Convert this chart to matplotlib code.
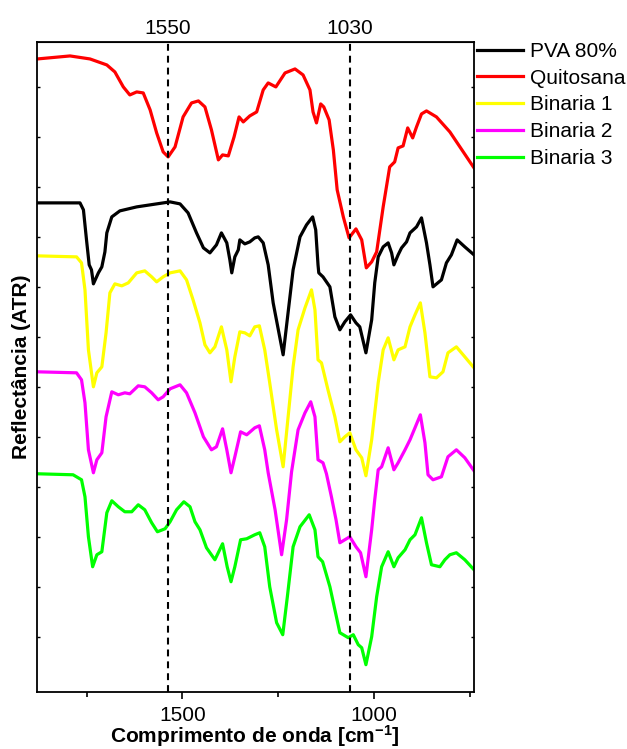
import numpy as np
import matplotlib
matplotlib.use("Agg")
import matplotlib.pyplot as plt

plt.rcParams['font.family'] = ['Liberation Sans', 'DejaVu Sans']
plt.rcParams['mathtext.fontset'] = 'custom'
plt.rcParams['mathtext.bf'] = 'Liberation Sans:bold'
plt.rcParams['mathtext.rm'] = 'Liberation Sans'

# wavenumber [cm-1] and reflectance (a.u., stacked)
quit_wn = [1878, 1793, 1741, 1697, 1676, 1654, 1637, 1619, 1602, 1584, 1567, 1550, 1537,
           1519, 1498, 1476, 1458, 1441, 1424, 1406, 1395, 1380, 1365, 1352, 1341, 1324,
           1306, 1289, 1276, 1256, 1232, 1206, 1185, 1167, 1159, 1150, 1139, 1131, 1117,
           1106, 1096, 1080, 1065, 1047, 1032, 1020, 1006, 993, 976, 959, 946, 937, 924,
           912, 899, 889, 876, 863, 837, 802, 767, 739]
quit_r = [633, 636, 633, 627, 620, 605, 597, 600, 599, 582, 559, 540, 535,
          545, 575, 589, 591, 585, 562, 532, 537, 536, 555, 575, 570, 576,
          580, 602, 609, 605, 619, 623, 617, 602, 580, 569, 588, 585, 572,
          542, 502, 475, 454, 463, 452, 424, 430, 440, 485, 525, 530, 544, 546,
          564, 554, 565, 578, 581, 575, 560, 540, 524]

pva_wn = [1878, 1767, 1758, 1750, 1743, 1737, 1732, 1719, 1710, 1702, 1697, 1684, 1663,
          1619, 1567, 1532, 1506, 1485, 1463, 1445, 1428, 1411, 1398, 1384, 1376, 1371,
          1363, 1354, 1350, 1337, 1324, 1311, 1302, 1289, 1276, 1263, 1237, 1211, 1193,
          1176, 1160, 1152, 1146, 1144, 1133, 1115, 1102, 1089, 1076, 1061, 1047, 1037,
          1021, 1006, 998, 989, 976, 963, 954, 948, 937, 928, 915, 906, 889, 876, 863,
          854, 846, 824, 811, 798, 783, 763, 739]
pva_r = [489, 489, 482, 452, 427, 422, 408, 419, 425, 440, 459, 475, 481,
         485, 488, 490, 488, 479, 459, 444, 439, 447, 459, 449, 432, 419,
         435, 442, 452, 448, 450, 454, 455, 449, 427, 389, 337, 422, 455,
         467, 475, 462, 427, 419, 415, 405, 375, 362, 370, 377, 369, 365,
         339, 372, 409, 435, 445, 449, 439, 427, 437, 444, 450, 459, 465, 474, 449,
         427, 405, 412, 429, 437, 452, 445, 437]

b1_wn = [1878, 1776, 1763, 1754, 1745, 1732, 1723, 1710, 1699, 1689, 1676, 1658, 1641,
         1619, 1598, 1580, 1567, 1550, 1532, 1506, 1489, 1472, 1454, 1441, 1428, 1415,
         1398, 1384, 1373, 1363, 1350, 1337, 1324, 1311, 1299, 1285, 1272, 1254, 1237,
         1224, 1211, 1198, 1180, 1163, 1154, 1146, 1137, 1120, 1102, 1089, 1076, 1063,
         1047, 1032, 1021, 1006, 989, 976, 963, 948, 937, 919, 906, 893, 879, 867, 854,
         837, 820, 807, 785, 763, 739]
b1_r = [436, 435, 429, 402, 342, 305, 319, 325, 359, 399, 408, 406, 409,
        419, 421, 415, 410, 415, 419, 421, 412, 392, 369, 347, 339, 345,
        365, 342, 310, 335, 360, 359, 356, 365, 366, 342, 309, 262, 225,
        275, 325, 362, 384, 402, 382, 332, 329, 302, 275, 250, 255, 259,
        242, 234, 216, 252, 309, 342, 354, 332, 342, 345, 365, 377, 389, 359, 315,
        314, 320, 339, 345, 335, 324]

b2_wn = [1878, 1776, 1763, 1754, 1745, 1732, 1723, 1710, 1699, 1684, 1667, 1650, 1637,
         1615, 1598, 1580, 1563, 1550, 1532, 1506, 1489, 1467, 1445, 1424, 1411, 1395,
         1384, 1373, 1363, 1348, 1332, 1311, 1299, 1285, 1276, 1258, 1241, 1228, 1215,
         1198, 1180, 1165, 1154, 1146, 1133, 1124, 1111, 1099, 1089, 1076, 1063, 1047,
         1035, 1021, 1006, 998, 989, 980, 963, 948, 937, 919, 906, 893, 879, 867, 859,
         846, 824, 807, 785, 763, 739]
b2_r = [320, 319, 312, 289, 242, 219, 232, 239, 275, 300, 297, 299, 298,
        306, 305, 299, 292, 295, 303, 307, 299, 279, 255, 242, 245, 263,
        242, 219, 235, 260, 257, 264, 266, 242, 219, 182, 137, 172, 220,
        262, 279, 290, 275, 232, 229, 218, 195, 172, 149, 152, 155, 145,
        139, 115, 162, 192, 222, 225, 244, 222, 229, 242, 252, 264, 277, 249, 217,
        212, 215, 235, 242, 234, 221]

b3_wn = [1878, 1785, 1763, 1754, 1745, 1734, 1723, 1710, 1697, 1684, 1667, 1650, 1632,
         1615, 1598, 1580, 1565, 1545, 1532, 1515, 1496, 1480, 1467, 1454, 1437, 1415,
         1395, 1383, 1373, 1363, 1348, 1332, 1311, 1298, 1285, 1272, 1254, 1238, 1226,
         1211, 1193, 1169, 1154, 1146, 1134, 1115, 1102, 1089, 1067, 1054, 1041, 1032,
         1021, 1006, 993, 980, 963, 948, 937, 919, 906, 893, 876, 863, 850, 828, 815,
         802, 785, 763, 739]
b3_r = [218, 217, 212, 195, 155, 125, 137, 140, 179, 191, 185, 180, 180,
        187, 182, 169, 160, 163, 170, 182, 190, 185, 170, 162, 144, 132,
        148, 125, 110, 125, 152, 153, 157, 159, 145, 105, 69, 57, 95,
        145, 165, 177, 162, 135, 130, 105, 82, 59, 54, 57, 47, 44,
        27, 55, 95, 125, 140, 125, 134, 142, 152, 157, 174, 149, 127, 125, 132,
        137, 139, 132, 122]

series = [
    ("PVA 80%", pva_wn, pva_r, "#000000"),
    ("Quitosana", quit_wn, quit_r, "#ff0000"),
    ("Binaria 1", b1_wn, b1_r, "#ffff00"),
    ("Binaria 2", b2_wn, b2_r, "#ff00ff"),
    ("Binaria 3", b3_wn, b3_r, "#00ff00"),
]

marked_pos = [1537, 1063]
marked_lbl = ["1550", "1030"]

fig = plt.figure(figsize=(6.27, 7.49), dpi=100)
ax = fig.add_axes([0.0585, 0.0765, 0.6975, 0.8675])

for name, wn, r, col in series:
    ax.plot(wn, r, color=col, lw=2.3, label=name, solid_joinstyle='round')

for xv in marked_pos:
    ax.axvline(xv, color='black', lw=1.5, linestyle=(0, (3.3, 2.4)))

ax.set_xlim(1880, 739)
ax.set_ylim(0, 650)

ax.set_xticks([1500, 1000])
ax.set_xticks([1750, 1250, 750], minor=True)
ax.tick_params(axis='x', which='major', direction='out', length=5, width=1.2,
               labelsize=15, pad=5)
ax.tick_params(axis='x', which='minor', direction='out', length=3.5, width=1.2)
ax.set_yticks(np.arange(55, 650, 50))
ax.tick_params(axis='y', which='major', direction='in', length=2.5, width=1,
               left=True, right=True, labelleft=False)

for s in ax.spines.values():
    s.set_linewidth(1.3)

top = ax.secondary_xaxis('top')
top.set_xticks(marked_pos)
top.set_xticklabels(marked_lbl)
top.tick_params(length=0, labelsize=15, pad=3)

ax.set_xlabel(r'Comprimento de onda [cm$\mathbf{^{-1}}$]', fontsize=15,
              fontweight='bold', labelpad=-1)
ax.set_ylabel('Reflectância (ATR)', fontsize=15, fontweight='bold')
ax.yaxis.set_label_coords(-0.012, 0.5)

ax.legend(loc='upper left', bbox_to_anchor=(477 / 627, 1 - 42 / 749),
          bbox_transform=fig.transFigure, frameon=False, fontsize=15,
          handlelength=2.2, handletextpad=0.35, labelspacing=0.37,
          borderpad=0, borderaxespad=0)

fig.savefig('out.png', dpi=100)
